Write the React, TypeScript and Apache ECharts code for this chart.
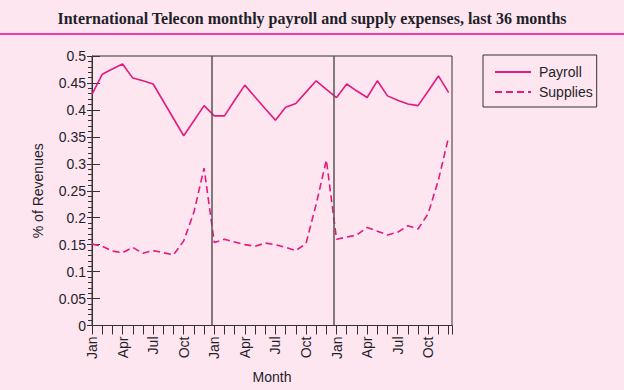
import React, { useEffect, useRef } from "react";
import * as echarts from "echarts";

const titleText = "International Telecon monthly payroll and supply expenses, last 36 months";
const quarterLabels = ["Jan", "Apr", "Jul", "Oct"];
const yearDividers = [11.75, 23.7];

const payroll = [
  0.429, 0.466, 0.476, 0.485, 0.459, 0.454, 0.448, 0.416, 0.384, 0.352, 0.38, 0.408,
  0.389, 0.389, 0.418, 0.446, 0.424, 0.402, 0.381, 0.405, 0.412, 0.433, 0.454, 0.438,
  0.423, 0.448, 0.435, 0.423, 0.454, 0.426, 0.418, 0.411, 0.408, 0.435, 0.463, 0.432,
];

const supplies = [
  0.151, 0.147, 0.138, 0.135, 0.145, 0.134, 0.139, 0.135, 0.131, 0.157, 0.21, 0.292,
  0.154, 0.16, 0.155, 0.15, 0.147, 0.153, 0.15, 0.145, 0.139, 0.152, 0.225, 0.307,
  0.16, 0.164, 0.168, 0.182, 0.175, 0.168, 0.173, 0.185, 0.179, 0.208, 0.27, 0.35,
];

const BG = "#FDE6F0";
const PINK = "#E5197E";
const AXIS = "#333333";
const TXT = "#1f1f2a";
const SANS = "Liberation Sans, Arial, sans-serif";

export default function App() {
  const ref = useRef<HTMLDivElement>(null);
  useEffect(() => {
    if (!ref.current) return;
    const chart = echarts.init(ref.current, undefined, { renderer: "svg" });
    const gridRect = { left: 92, right: 172, top: 56, bottom: 64.5 };
    const xFormatter = (v: number) => {
      if (Math.abs(v - Math.round(v)) > 1e-6) return "";
      const m = Math.round(v) % 12;
      return m % 3 === 0 ? quarterLabels[m / 3] : "";
    };
    chart.setOption({
      animation: false,
      backgroundColor: BG,
      title: {
        text: titleText,
        left: "center",
        top: 10,
        padding: 0,
        textStyle: { fontFamily: "Liberation Serif, Times New Roman, serif", fontWeight: "bold", fontSize: 16, color: TXT },
      },
      graphic: [
        { type: "line", shape: { x1: 0, y1: 34, x2: 624, y2: 34 }, style: { stroke: "#EC008C", lineWidth: 1.5 } },
      ],
      legend: {
        orient: "vertical",
        left: 483,
        top: 55,
        padding: [10, 4, 8, 11],
        itemWidth: 36,
        itemHeight: 14,
        itemGap: 6,
        borderColor: AXIS,
        borderWidth: 1,
        itemStyle: { opacity: 0 },
        textStyle: { fontSize: 14, fontFamily: SANS, color: TXT, padding: [0, 0, 0, 3] },
        data: ["Payroll", "Supplies"],
      },
      grid: [
        { ...gridRect, show: true, borderColor: AXIS, borderWidth: 1, backgroundColor: "transparent" },
        { ...gridRect, show: false },
      ],
      xAxis: [
        {
          type: "value",
          gridIndex: 0,
          min: 0,
          max: 35.33,
          interval: 1,
          axisLine: { show: true, lineStyle: { color: AXIS, width: 1 } },
          axisTick: { show: true, length: 9, lineStyle: { color: AXIS } },
          axisLabel: {
            rotate: 90,
            formatter: xFormatter,
            fontSize: 14,
            fontFamily: SANS,
            color: TXT,
            margin: 11,
            padding: [7, 0, 0, 0],
          },
          splitLine: { show: false },
          name: "Month",
          nameLocation: "middle",
          nameGap: 44,
          nameTextStyle: { fontSize: 14, fontFamily: SANS, color: TXT },
        },
        {
          type: "value",
          gridIndex: 1,
          min: 0,
          max: 35.33,
          show: false,
        },
      ],
      yAxis: [
        {
          type: "value",
          gridIndex: 0,
          min: 0,
          max: 0.5,
          interval: 0.05,
          axisLine: { show: true, lineStyle: { color: AXIS, width: 1 } },
          axisTick: { show: true, length: 5, lineStyle: { color: AXIS } },
          minorTick: { show: true, splitNumber: 5, length: 4, lineStyle: { color: AXIS } },
          axisLabel: {
            formatter: (v: number) => String(Number(v.toFixed(2))),
            fontSize: 14,
            fontFamily: SANS,
            color: TXT,
            margin: 6,
          },
          splitLine: { show: false },
          minorSplitLine: { show: false },
          name: "% of Revenues",
          nameLocation: "middle",
          nameGap: 47,
          nameTextStyle: { fontSize: 14, fontFamily: SANS, color: TXT },
        },
        {
          type: "value",
          gridIndex: 1,
          min: 0,
          max: 0.5,
          interval: 0.05,
          axisLine: { show: false },
          axisTick: { show: true, inside: true, length: 8, lineStyle: { color: AXIS } },
          axisLabel: { show: false },
          splitLine: { show: false },
        },
      ],
      series: [
        {
          name: "Payroll",
          type: "line",
          xAxisIndex: 0,
          yAxisIndex: 0,
          data: payroll.map((v, i) => [i, v]),
          symbol: "none",
          lineStyle: { color: PINK, width: 1.6 },
          itemStyle: { color: PINK },
          markLine: {
            silent: true,
            symbol: "none",
            label: { show: false },
            lineStyle: { color: "#555555", width: 1.5, type: "solid" },
            data: yearDividers.map((x) => ({ xAxis: x })),
          },
        },
        {
          name: "Supplies",
          type: "line",
          xAxisIndex: 0,
          yAxisIndex: 0,
          data: supplies.map((v, i) => [i, v]),
          symbol: "none",
          lineStyle: { color: PINK, width: 1.6, type: [7, 4] },
          itemStyle: { color: PINK },
        },
      ],
    });
    return () => chart.dispose();
  }, []);
  return (
    <div
      ref={ref}
      style={{ position: "absolute", left: 0, top: 0, width: 624, height: 390, background: BG }}
    />
  );
}
